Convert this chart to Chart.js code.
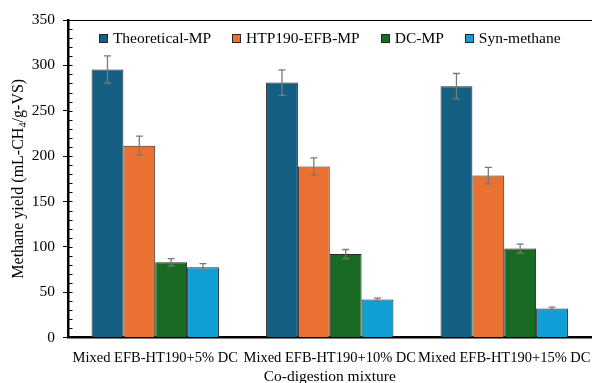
<!DOCTYPE html>
<html>
<head>
<meta charset="utf-8">
<script src="https://cdn.jsdelivr.net/npm/chart.js@4"></script>
<style>
  html, body { margin: 0; padding: 0; background: #fff; overflow: hidden; }
  #wrap { width: 592px; height: 383px; overflow: hidden; }
</style>
</head>
<body>
<div id="wrap"><canvas id="chart" width="594" height="383"></canvas></div>
<script>
const categories = ["Mixed EFB-HT190+5% DC", "Mixed EFB-HT190+10% DC", "Mixed EFB-HT190+15% DC"];

const theoreticalMP = [295.5, 281, 277];
const theoreticalErr = [15, 14, 14];
const htpEfbMP = [211.5, 188.5, 178.5];
const htpEfbErr = [10.5, 9.5, 9];
const dcMP = [83, 92, 98];
const dcErr = [4, 5, 5];
const synMethane = [77.5, 42, 32];
const synErr = [4, 1.5, 1.5];

const yTicks = [0, 50, 100, 150, 200, 250, 300, 350];

const FONT = "'Liberation Serif', 'Times New Roman', serif";
const FONT_SIZE = 15.5;
const X_FONT_SIZE = 14.5;
const TITLE_SIZE = 16;

const errorSets = [theoreticalErr, htpEfbErr, dcErr, synErr];

// legend drawn inside the plot area, centred on it
const drawLegend = (chart) => {
  const ctx = chart.ctx;
  const area = chart.chartArea;
  const box = 8;
  const gap = 6;
  const pad = 21;
  const cy = 37.5;
  ctx.save();
  ctx.font = `${FONT_SIZE}px ${FONT}`;
  const items = chart.data.datasets.map((ds) => ({
    text: ds.label,
    color: ds.backgroundColor,
    w: box + gap + ctx.measureText(ds.label).width
  }));
  const total = items.reduce((s, it) => s + it.w, 0) + pad * (items.length - 1);
  let x = (area.left + area.right) / 2 - total / 2;
  ctx.textBaseline = "middle";
  items.forEach((it) => {
    const bx = Math.round(x) + 0.5;
    const by = Math.round(cy - box / 2) + 0.5;
    ctx.fillStyle = it.color;
    ctx.fillRect(bx, by, box, box);
    ctx.strokeStyle = "#262626";
    ctx.lineWidth = 1;
    ctx.strokeRect(bx, by, box, box);
    ctx.fillStyle = "#000";
    ctx.fillText(it.text, x + box + gap, cy + 1);
    x += it.w + pad;
  });
  ctx.restore();
};

const extras = {
  id: "extras",
  afterDatasetsDraw(chart) {
    const ctx = chart.ctx;
    const y = chart.scales.y;
    ctx.save();
    ctx.strokeStyle = "#7a7a7a";
    ctx.lineWidth = 1.3;
    chart.data.datasets.forEach((ds, i) => {
      const meta = chart.getDatasetMeta(i);
      meta.data.forEach((bar, j) => {
        const v = ds.data[j];
        const e = errorSets[i][j];
        const yTop = y.getPixelForValue(v + e);
        const yBot = y.getPixelForValue(v - e);
        ctx.beginPath();
        ctx.moveTo(bar.x, yTop);
        ctx.lineTo(bar.x, yBot);
        ctx.moveTo(bar.x - 3.5, yTop);
        ctx.lineTo(bar.x + 3.5, yTop);
        ctx.moveTo(bar.x - 3.5, yBot);
        ctx.lineTo(bar.x + 3.5, yBot);
        ctx.stroke();
      });
    });
    ctx.restore();
  },
  afterDraw(chart) {
    const ctx = chart.ctx;
    const area = chart.chartArea;
    const y = chart.scales.y;
    ctx.save();
    // top frame line
    ctx.strokeStyle = "#000";
    ctx.lineWidth = 1;
    ctx.beginPath();
    ctx.moveTo(area.left, Math.round(area.top) + 0.5);
    ctx.lineTo(chart.width, Math.round(area.top) + 0.5);
    ctx.stroke();
    // minor ticks inside
    for (let v = 10; v < 350; v += 10) {
      const py = Math.round(y.getPixelForValue(v)) + 0.5;
      ctx.beginPath();
      ctx.moveTo(area.left, py);
      ctx.lineTo(area.left + 4.5, py);
      ctx.stroke();
    }
    // y title with subscript
    ctx.translate(19, (area.top + area.bottom) / 2);
    ctx.rotate(-Math.PI / 2);
    ctx.fillStyle = "#000";
    ctx.textBaseline = "middle";
    const parts = [
      { t: "Methane yield (mL-CH", s: TITLE_SIZE, dy: 0 },
      { t: "4", s: TITLE_SIZE * 0.65, dy: 4 },
      { t: "/g-VS)", s: TITLE_SIZE, dy: 0 }
    ];
    let total = 0;
    parts.forEach((p) => {
      ctx.font = `${p.s}px ${FONT}`;
      p.w = ctx.measureText(p.t).width;
      total += p.w;
    });
    let x = -total / 2;
    parts.forEach((p) => {
      ctx.font = `${p.s}px ${FONT}`;
      ctx.fillText(p.t, x, p.dy);
      x += p.w;
    });
    ctx.restore();
    drawLegend(chart);
  }
};

const barStyle = { borderColor: "#262626", borderWidth: 1 };

new Chart(document.getElementById("chart"), {
  type: "bar",
  data: {
    labels: categories,
    datasets: [
      { label: "Theoretical-MP", data: theoreticalMP, backgroundColor: "#156082", ...barStyle },
      { label: "HTP190-EFB-MP", data: htpEfbMP, backgroundColor: "#E97132", ...barStyle },
      { label: "DC-MP", data: dcMP, backgroundColor: "#196B24", ...barStyle },
      { label: "Syn-methane", data: synMethane, backgroundColor: "#0F9ED5", ...barStyle }
    ]
  },
  options: {
    responsive: false,
    animation: false,
    layout: { padding: { left: 0, right: 0, top: 20, bottom: 0 } },
    datasets: { bar: { categoryPercentage: 0.73, barPercentage: 1 } },
    plugins: {
      legend: { display: false },
      tooltip: { enabled: false }
    },
    scales: {
      x: {
        grid: { display: false },
        border: { display: true, color: "#000", width: 2.5 },
        ticks: {
          color: "#000",
          maxRotation: 0,
          autoSkip: false,
          padding: 3.5,
          font: { family: FONT, size: X_FONT_SIZE }
        },
        title: {
          display: true,
          text: "Co-digestion mixture",
          color: "#000",
          padding: { top: 0, bottom: -3 },
          font: { family: FONT, size: FONT_SIZE }
        },
        afterFit: (scale) => { scale.height = 45.5; }
      },
      y: {
        min: 0,
        max: 350,
        afterBuildTicks: (scale) => { scale.ticks = yTicks.map((v) => ({ value: v })); },
        grid: { display: true, drawOnChartArea: false, drawTicks: true, tickLength: 5, color: "#000", lineWidth: 1 },
        border: { display: true, color: "#000", width: 2.5 },
        ticks: {
          color: "#000",
          padding: 8,
          font: { family: FONT, size: FONT_SIZE }
        },
        afterFit: (scale) => { scale.width = 68; }
      }
    }
  },
  plugins: [extras]
});
</script>
</body>
</html>
